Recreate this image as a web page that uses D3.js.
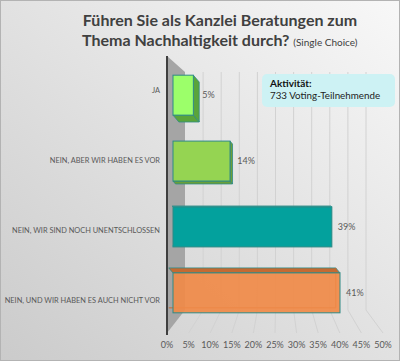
<!DOCTYPE html>
<html>
<head>
<meta charset="utf-8">
<script src="https://cdnjs.cloudflare.com/ajax/libs/d3/7.8.5/d3.min.js"></script>
<style>
  body { margin: 0; }
  svg { display: block; font-family: Lato, "Open Sans", sans-serif; }
</style>
</head>
<body>
<div id="chart"></div>
<script>
// data
var categories = ["JA", "NEIN, ABER WIR HABEN ES VOR", "NEIN, WIR SIND NOCH UNENTSCHLOSSEN", "NEIN, UND WIR HABEN ES AUCH NICHT VOR"];
var values = [5, 14, 39, 41];
var tickValues = [0, 5, 10, 15, 20, 25, 30, 35, 40, 45, 50];
var titleLines = ["Führen Sie als Kanzlei Beratungen zum", "Thema Nachhaltigkeit durch?"];
var subtitle = "(Single Choice)";
var noteTitle = "Aktivität:";
var noteText = "733 Voting-Teilnehmende";

var barColors = [
  {front: "#9cff6a", side: "#5aa53a", op: 1},
  {front: "#95d452", side: "#6a9f38", op: 1},
  {front: "#03a19d", side: "#3cbcb8", op: 1},
  {front: "#f08a48", side: "#c46a32", op: 0.92}
];

var width = 400, height = 361;

var svg = d3.select("#chart").append("svg")
  .attr("width", width)
  .attr("height", height);

// background gradient
var defs = svg.append("defs");
var grad = defs.append("linearGradient")
  .attr("id", "bg")
  .attr("x1", "100%").attr("y1", "0%")
  .attr("x2", "0%").attr("y2", "100%");
grad.append("stop").attr("offset", "0%").attr("stop-color", "#f8f8f8");
grad.append("stop").attr("offset", "100%").attr("stop-color", "#cbcbcb");

svg.append("rect")
  .attr("x", 0.5).attr("y", 0.5)
  .attr("width", width - 1).attr("height", height - 1)
  .attr("fill", "url(#bg)")
  .attr("stroke", "#b3b3b3");

// scales: front edge of floor, back wall, bars in between
var xFront = d3.scaleLinear().domain([0, 50]).range([167, 383]);
var xBack = d3.scaleLinear().domain([0, 50]).range([185, 366]);
var xBar = d3.scaleLinear().domain([0, 41]).range([173, 340]);

var yBar = d3.scaleBand()
  .domain(categories)
  .range([62, 326])
  .paddingInner(0.394)
  .paddingOuter(0.2);

var yLabel = d3.scaleBand()
  .domain(categories)
  .range([55, 335]);

var backTop = 72, backBottom = 310, frontBottom = 333, wallTop = 56;

// gridlines on back wall and floor
var grid = svg.append("g").attr("class", "grid");
tickValues.slice(1).forEach(function(t) {
  grid.append("path")
    .attr("d", `M${xBack(t)},${backTop}V${backBottom}L${xFront(t)},${frontBottom}`)
    .attr("fill", "none")
    .attr("stroke", "#d2d2d2")
    .attr("stroke-width", 1);
});

// side wall
svg.append("path")
  .attr("d", `M${xFront(0)},${wallTop}L${xBack(0)},${backTop}V${backBottom}L${xFront(0)},${frontBottom}Z`)
  .attr("fill", "#a5a5a5");

svg.append("line")
  .attr("x1", xFront(0)).attr("x2", xFront(0))
  .attr("y1", wallTop).attr("y2", frontBottom + 2)
  .attr("stroke", "#3f3f3f")
  .attr("stroke-width", 2);

// tick labels
svg.append("g").selectAll("text")
  .data(tickValues)
  .enter().append("text")
  .attr("x", d => xFront(d))
  .attr("y", 348)
  .attr("text-anchor", "middle")
  .attr("font-size", 9)
  .attr("fill", "#595959")
  .text(d => d + "%");

// bars with fake depth
var bars = svg.append("g").selectAll("g")
  .data(values)
  .enter().append("g");

bars.each(function(v, i) {
  var g = d3.select(this);
  var c = barColors[i];
  var x0 = xBar(0), x1 = xBar(v);
  var y0 = yBar(categories[i]), y1 = y0 + yBar.bandwidth();
  var dy = (210 - (y0 + y1) / 2) * 0.06;
  var dx = dy * 0.85;

  if (dy > 0) {
    // bottom and right faces visible
    g.append("path")
      .attr("d", `M${x0},${y1}L${x1},${y1}L${x1 + dx},${y1 + dy}L${x0 + dx},${y1 + dy}Z`)
      .attr("fill", c.side).attr("stroke", "#2f8a86").attr("stroke-width", 0.8);
    g.append("path")
      .attr("d", `M${x1},${y0}L${x1 + dx},${y0 + dy}L${x1 + dx},${y1 + dy}L${x1},${y1}Z`)
      .attr("fill", c.side).attr("stroke", "#2f8a86").attr("stroke-width", 0.8);
  } else {
    // top face, back edges seen through
    g.append("path")
      .attr("d", `M${x0},${y0}L${x1},${y0}L${x1 + dx},${y0 + dy}L${x0 + dx},${y0 + dy}Z`)
      .attr("fill", c.side).attr("stroke", "#2f8a86").attr("stroke-width", 0.8);
    g.append("path")
      .attr("d", `M${x0 + dx},${y1 + dy}H${x1 + dx}V${y0 + dy}`)
      .attr("fill", "none").attr("stroke", c.side).attr("stroke-width", 1);
  }

  g.append("rect")
    .attr("x", x0).attr("y", y0)
    .attr("width", x1 - x0).attr("height", y1 - y0)
    .attr("fill", c.front)
    .attr("fill-opacity", c.op)
    .attr("stroke", "#2f8a86")
    .attr("stroke-width", 1);

  g.append("text")
    .attr("x", x1 + 6 + Math.max(dx, 0) * 0.5)
    .attr("y", (y0 + y1) / 2 + 3)
    .attr("font-size", 9)
    .attr("fill", "#595959")
    .text(v + "%");
});

// category labels
svg.append("g").selectAll("text")
  .data(categories)
  .enter().append("text")
  .attr("x", 160)
  .attr("y", d => yLabel(d) + yLabel.bandwidth() / 2 + 3)
  .attr("text-anchor", "end")
  .attr("font-size", 7.4)
  .attr("fill", "#595959")
  .text(d => d);

// title
svg.append("text")
  .attr("x", 220).attr("y", 26)
  .attr("text-anchor", "middle")
  .attr("font-size", 16)
  .attr("font-weight", "bold")
  .attr("fill", "#404040")
  .text(titleLines[0]);

var t2 = svg.append("text")
  .attr("x", 82).attr("y", 46)
  .attr("fill", "#404040");
t2.append("tspan")
  .attr("font-size", 16)
  .attr("font-weight", "bold")
  .text(titleLines[1] + " ");
t2.append("tspan")
  .attr("font-size", 10)
  .text(subtitle);

// note box
svg.append("rect")
  .attr("x", 262).attr("y", 74)
  .attr("width", 133).attr("height", 33)
  .attr("rx", 5)
  .attr("fill", "#cdf2f4");

svg.append("text")
  .attr("x", 270).attr("y", 87)
  .attr("font-size", 10)
  .attr("font-weight", "bold")
  .attr("fill", "#111")
  .text(noteTitle);

svg.append("text")
  .attr("x", 270).attr("y", 99)
  .attr("font-size", 9.8)
  .attr("fill", "#222")
  .text(noteText);
</script>
</body>
</html>
